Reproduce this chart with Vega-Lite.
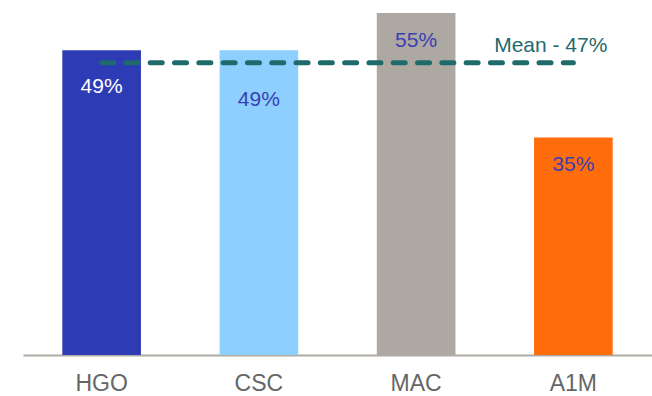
{
  "$schema": "https://vega.github.io/schema/vega-lite/v6.json",
  "autosize": {"type": "none"},
  "width": 629,
  "height": 355,
  "padding": {"left": 23, "top": 0, "right": 0, "bottom": 41},
  "background": "white",
  "config": {
    "view": {"stroke": null},
    "font": "Liberation Sans"
  },
  "datasets": {
    "shares": [
      {"group": "HGO", "share": 49, "label": "49%"},
      {"group": "CSC", "share": 49, "label": "49%"},
      {"group": "MAC", "share": 55, "label": "55%"},
      {"group": "A1M", "share": 35, "label": "35%"}
    ],
    "mean": [
      {"from": "HGO", "to": "A1M", "share": 47, "label": "Mean - 47%"}
    ]
  },
  "encoding": {
    "x": {
      "field": "group",
      "type": "nominal",
      "scale": {"domain": ["HGO", "CSC", "MAC", "A1M"], "paddingInner": 0.5, "paddingOuter": 0.25},
      "axis": {
        "title": null,
        "labelAngle": 0,
        "ticks": false,
        "tickSize": 0,
        "grid": false,
        "domainColor": "#B0ABA6",
        "domainWidth": 2,
        "labelFont": "Liberation Sans",
        "labelFontSize": 23,
        "labelColor": "#666666",
        "labelBaseline": "alphabetic",
        "labelPadding": 35
      }
    }
  },
  "layer": [
    {
      "data": {"name": "shares"},
      "mark": {"type": "bar"},
      "encoding": {
        "y": {
          "field": "share",
          "type": "quantitative",
          "scale": {"domain": [0, 57.1], "nice": false},
          "axis": null
        },
        "color": {
          "field": "group",
          "type": "nominal",
          "scale": {
            "domain": ["HGO", "CSC", "MAC", "A1M"],
            "range": ["#2D3BB4", "#8DCFFF", "#ADA8A2", "#FF6C0C"]
          },
          "legend": null
        }
      }
    },
    {
      "data": {"name": "shares"},
      "transform": [{"filter": "datum.group === 'HGO'"}],
      "mark": {"type": "text", "baseline": "middle", "dy": 37, "fontSize": 21, "color": "#FFFFFF"},
      "encoding": {
        "y": {"field": "share", "type": "quantitative"},
        "text": {"field": "label"}
      }
    },
    {
      "data": {"name": "shares"},
      "transform": [{"filter": "datum.group === 'CSC'"}],
      "mark": {"type": "text", "baseline": "middle", "dy": 50, "fontSize": 21, "color": "#3A40B2"},
      "encoding": {
        "y": {"field": "share", "type": "quantitative"},
        "text": {"field": "label"}
      }
    },
    {
      "data": {"name": "shares"},
      "transform": [{"filter": "datum.group === 'MAC' || datum.group === 'A1M'"}],
      "mark": {"type": "text", "baseline": "middle", "dy": 28, "fontSize": 21, "color": "#3A40B2"},
      "encoding": {
        "y": {"field": "share", "type": "quantitative"},
        "text": {"field": "label"}
      }
    },
    {
      "data": {"name": "mean"},
      "mark": {"type": "rule", "color": "#1F6A6B", "strokeWidth": 5, "strokeCap": "round", "strokeDash": [12, 12.3]},
      "encoding": {
        "x": {"field": "from", "type": "nominal"},
        "x2": {"field": "to"},
        "y": {"field": "share", "type": "quantitative"}
      }
    },
    {
      "data": {"name": "mean"},
      "mark": {"type": "text", "align": "right", "baseline": "alphabetic", "dx": 34, "dy": -11, "fontSize": 21, "color": "#1F6A6B"},
      "encoding": {
        "x": {"field": "to", "type": "nominal"},
        "y": {"field": "share", "type": "quantitative"},
        "text": {"field": "label"}
      }
    }
  ]
}
